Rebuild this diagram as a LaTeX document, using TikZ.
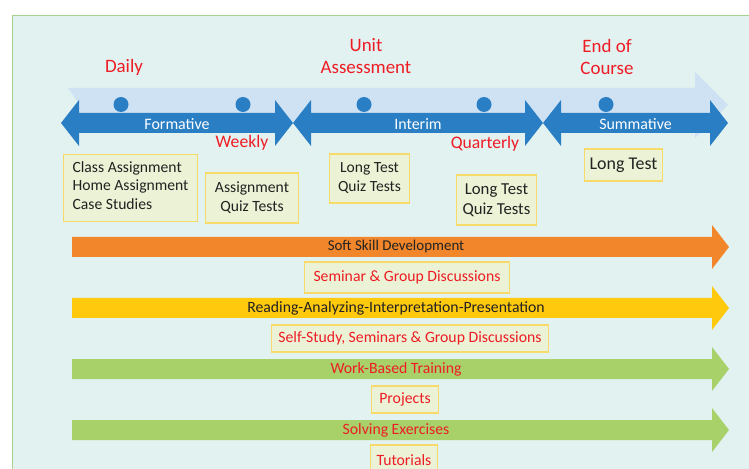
\documentclass[tikz,border=0pt]{standalone}
\usepackage{fontspec}
\setmainfont{Carlito}
\usepackage{tikz}
\usetikzlibrary{positioning}
\definecolor{panel}{HTML}{E2F2F0}
\definecolor{panelline}{HTML}{A9D18E}
\definecolor{lightband}{HTML}{CFE2F3}
\definecolor{darkband}{HTML}{2A7FC4}
\definecolor{headred}{HTML}{EE1C25}
\definecolor{boxfill}{HTML}{EBF2D5}
\definecolor{boxline}{HTML}{F8DA6A}
\definecolor{softorange}{HTML}{F2862A}
\definecolor{readyellow}{HTML}{FFC90E}
\definecolor{workgreen}{HTML}{A8D16A}
\definecolor{darktext}{HTML}{222222}
\tikzstyle{block} = [rectangle, draw=boxline, line width=1.2bp, fill=boxfill,
                 inner sep=0pt, text=darktext]
\tikzset{
	period/.style={text=headred, align=center, font=\fontsize{19}{22}\selectfont},
	phase/.style={text=white, font=\fontsize{16}{18}\selectfont},
	track/.style={font=\fontsize{15.8}{18}\selectfont},
}

\begin{document}
\begin{tikzpicture}[x=1bp, y=-1bp]
\useasboundingbox (0,0) rectangle (749,469);

% panel
\fill[panel] (12,15) rectangle (749,469);
\draw[panelline, line width=1.5bp] (12.5,469) -- (12.5,15.5) -- (749,15.5);

% light time band
\fill[lightband] (68,88) -- (695,88) -- (695,72) -- (728,105) -- (695,138)
	-- (695,122) -- (68,122) -- (80,105) -- cycle;

% phases
\foreach \l/\r/\name/\txt in {61/293/formative/Formative, 293/543/interim/Interim,
		543/728/summative/Summative}
{
	\fill[darkband] (\l,123) -- (\l+18,100) -- (\l+18,113) -- (\r-18,113)
		-- (\r-18,100) -- (\r,123) -- (\r-18,146) -- (\r-18,133)
		-- (\l+18,133) -- (\l+18,146) -- cycle;
	\node[phase] (\name) at ({(\l+\r)/2},124) {\txt};
}
\foreach \x in {121, 243, 364, 484, 606}
	\fill[darkband] (\x,104.5) circle (7.5);

% periods
\node[period] (daily) at (124,67) {Daily};
\node[period] (unit) at (366,56) {Unit\\Assessment};
\node[period] (endcourse) at (607,57) {End of\\Course};
\node[period, font=\fontsize{17.7}{20}\selectfont] (weekly) at (242,143) {Weekly};
\node[period, font=\fontsize{17.7}{20}\selectfont] (quarterly) at (485,144) {Quarterly};

% tasks
\node [block, minimum width=135, minimum height=68, align=left,
	font=\fontsize{15.7}{18.7}\selectfont] at (130.5,188) (classwork)
	{Class Assignment\\Home Assignment\\Case Studies\vspace{5bp}};
\node [block, minimum width=94, minimum height=50, align=center,
	font=\fontsize{15.7}{19}\selectfont] at (252,198) (weeklytests)
	{Assignment\\Quiz Tests};
\node [block, minimum width=81, minimum height=49, align=center,
	font=\fontsize{15.6}{19}\selectfont] at (369.5,178.5) (unittests)
	{Long Test\\Quiz Tests};
\node [block, minimum width=81, minimum height=50, align=center,
	font=\fontsize{16.8}{20.5}\selectfont] at (496.5,200) (quarterlytests)
	{Long Test\\Quiz Tests};
\node [block, minimum width=79, minimum height=32,
	font=\fontsize{18}{20}\selectfont] at (623.5,165) (finaltest) {Long Test};

% tracks
\foreach \y/\col/\name/\txt/\tcol/\fs in {247/softorange/soft/Soft Skill Development/darktext/15,
		308/readyellow/reading/Reading-Analyzing-Interpretation-Presentation/darktext/15.8,
		369/workgreen/work/Work-Based Training/headred/15.8,
		430/workgreen/exercises/Solving Exercises/headred/15.8}
{
	\fill[\col] (72,\y-10) -- (712,\y-10) -- (712,\y-22) -- (729,\y)
		-- (712,\y+22) -- (712,\y+10) -- (72,\y+10) -- cycle;
	\node[text=\tcol, font=\fontsize{\fs}{18}\selectfont] (\name) at (396,\y) {\txt};
}

\node [block, track, text=headred, minimum width=206, minimum height=31]
	at (407,277.5) (seminar) {Seminar \& Group Discussions};
\node [block, track, text=headred, minimum width=278, minimum height=27]
	at (410,338.5) (selfstudy) {Self-Study, Seminars \& Group Discussions};
\node [block, track, text=headred, minimum width=68, minimum height=27]
	at (405,399.5) (projects) {Projects};
\node [block, track, text=headred, minimum width=68, minimum height=30]
	at (404,460) (tutorials) {Tutorials};

\end{tikzpicture}
\end{document}
